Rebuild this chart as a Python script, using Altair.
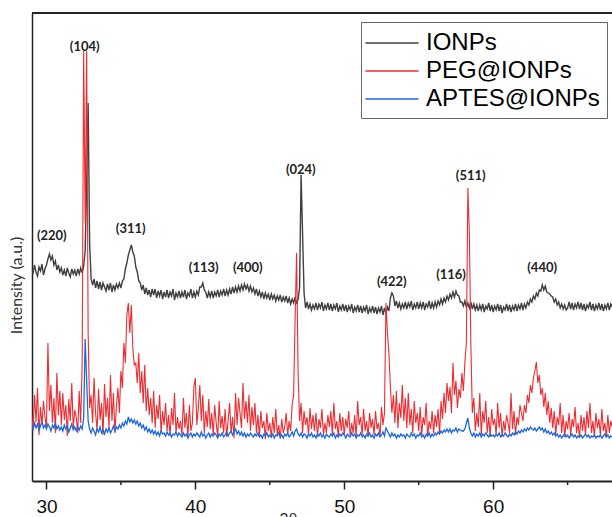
import altair as alt
import pandas as pd

# 2-theta grid: 29.0 .. 68.0 in 0.1 degree steps (one row of values per degree)
two_theta = [round(29.0 + 0.1 * i, 1) for i in range(391)]

series_names = ["IONPs", "PEG@IONPs", "APTES@IONPs"]
series_colors = ["#404040", "#ef2b30", "#1c68e0"]
series_widths = [1.4, 1.1, 1.3]

ionps = [
    215, 209, 218, 211, 207, 216, 212, 219, 208, 214,   # 29
    218, 224, 229, 223, 227, 218, 222, 213, 218, 211,   # 30
    215, 208, 213, 207, 215, 210, 206, 214, 209, 213,   # 31
    207, 214, 209, 215, 210, 217, 232, 300, 380, 240,   # 32
    204, 198, 204, 195, 202, 194, 201, 193, 200, 196,   # 33
    192, 199, 193, 200, 191, 198, 193, 199, 195, 200,   # 34
    195, 202, 204, 214, 220, 228, 233, 238, 231, 227,   # 35
    216, 211, 202, 200, 193, 198, 189, 195, 188, 193,   # 36
    186, 194, 188, 194, 185, 192, 187, 193, 184, 191,   # 37
    186, 193, 185, 191, 187, 194, 183, 190, 186, 192,   # 38
    185, 191, 186, 193, 184, 190, 187, 194, 185, 191,   # 39
    186, 192, 188, 196, 196, 200, 193, 191, 185, 191,   # 40
    186, 192, 185, 191, 187, 193, 186, 192, 188, 194,   # 41
    187, 193, 188, 194, 189, 196, 190, 196, 191, 197,   # 42
    192, 198, 193, 199, 194, 198, 192, 197, 191, 195,   # 43
    189, 194, 187, 192, 186, 191, 184, 190, 185, 189,   # 44
    183, 189, 184, 188, 182, 187, 183, 188, 181, 186,   # 45
    182, 187, 180, 185, 179, 184, 180, 186, 179, 184,   # 46
    195, 308, 250, 190, 175, 181, 174, 179, 173, 178,   # 47
    174, 180, 173, 179, 175, 181, 172, 178, 174, 180,   # 48
    173, 179, 172, 178, 174, 180, 171, 177, 173, 179,   # 49
    172, 178, 171, 177, 173, 179, 170, 176, 172, 178,   # 50
    171, 177, 170, 176, 172, 178, 169, 175, 171, 177,   # 51
    170, 176, 169, 175, 171, 177, 168, 175, 170, 176,   # 52
    172, 185, 190, 187, 177, 182, 175, 180, 174, 179,   # 53
    175, 181, 174, 180, 176, 182, 173, 179, 175, 181,   # 54
    174, 180, 175, 181, 173, 179, 176, 182, 174, 180,   # 55
    175, 181, 176, 182, 178, 184, 179, 185, 181, 187,   # 56
    183, 189, 185, 191, 186, 192, 188, 187, 181, 181,   # 57
    177, 182, 176, 180, 175, 181, 174, 179, 173, 178,   # 58
    172, 178, 173, 179, 171, 177, 174, 180, 172, 178,   # 59
    171, 177, 173, 179, 172, 178, 170, 176, 173, 179,   # 60
    172, 178, 171, 177, 173, 179, 172, 178, 174, 180,   # 61
    173, 179, 175, 181, 178, 184, 181, 187, 184, 190,   # 62
    187, 193, 192, 198, 193, 197, 191, 190, 189, 187,   # 63
    186, 181, 184, 178, 181, 175, 179, 174, 178, 173,   # 64
    175, 181, 174, 180, 173, 179, 175, 181, 174, 180,   # 65
    173, 179, 172, 178, 175, 181, 173, 179, 172, 178,   # 66
    174, 180, 173, 179, 172, 178, 174, 180, 173, 179,   # 67
    176,                                                # 68
]

peg_ionps = [
    70, 52, 88, 61, 95, 48, 76, 58, 82, 66,             # 29
    55, 140, 72, 98, 60, 85, 50, 110, 68, 92,           # 30
    58, 90, 63, 78, 47, 84, 62, 100, 55, 73,            # 31
    66, 50, 92, 60, 120, 432, 260, 432, 150, 75,        # 32
    88, 60, 105, 70, 52, 94, 63, 80, 48, 99,            # 33
    66, 85, 55, 108, 62, 90, 50, 77, 95, 70,            # 34
    112, 95, 140, 120, 168, 180, 150, 178, 135, 118,    # 35
    120, 100, 130, 90, 112, 80, 118, 72, 95, 68,        # 36
    85, 60, 92, 55, 78, 64, 88, 50, 72, 58,             # 37
    80, 52, 68, 47, 75, 58, 90, 50, 66, 54,             # 38
    62, 48, 85, 55, 70, 45, 78, 52, 60, 96,             # 39
    105, 58, 75, 98, 62, 88, 50, 72, 56, 84,            # 40
    54, 70, 48, 78, 60, 46, 82, 55, 67, 50,             # 41
    74, 46, 62, 80, 50, 66, 45, 90, 58, 85,             # 42
    70, 55, 100, 64, 82, 60, 88, 52, 76, 58,            # 43
    80, 50, 68, 46, 72, 55, 62, 44, 70, 52,             # 44
    60, 45, 66, 50, 74, 48, 58, 44, 64, 50,             # 45
    56, 70, 48, 62, 52, 78, 88, 165, 230, 110,          # 46
    62, 80, 50, 72, 58, 66, 48, 75, 54, 68,             # 47
    52, 70, 46, 64, 55, 74, 48, 60, 50, 68,             # 48
    56, 72, 48, 80, 54, 62, 46, 70, 52, 66,             # 49
    48, 64, 55, 72, 46, 60, 50, 68, 45, 82,             # 50
    58, 66, 48, 74, 52, 62, 46, 70, 55, 64,             # 51
    48, 72, 54, 60, 46, 76, 58, 70, 180, 150,           # 52
    130, 95, 70, 88, 60, 92, 55, 80, 65, 98,            # 53
    62, 85, 55, 90, 58, 74, 50, 82, 60, 70,             # 54
    52, 76, 48, 66, 58, 80, 46, 62, 54, 72,             # 55
    50, 68, 56, 74, 48, 82, 64, 90, 70, 100,            # 56
    82, 96, 70, 120, 88, 102, 75, 94, 85, 110,          # 57
    92, 120, 140, 295, 250, 140, 70, 85, 52, 70,        # 58
    56, 90, 48, 72, 60, 82, 50, 66, 46, 74,             # 59
    58, 64, 48, 80, 55, 70, 46, 62, 52, 68,             # 60
    60, 50, 90, 54, 72, 48, 66, 58, 78, 70,             # 61
    62, 78, 70, 88, 80, 98, 90, 105, 112, 121,          # 62
    100, 108, 88, 95, 76, 90, 68, 82, 60, 75,           # 63
    55, 72, 48, 66, 58, 80, 50, 68, 46, 62,             # 64
    54, 70, 47, 64, 56, 76, 50, 60, 45, 68,             # 65
    52, 66, 48, 72, 55, 80, 50, 62, 46, 70,             # 66
    55, 64, 48, 74, 52, 60, 45, 68, 50, 62,             # 67
    56,                                                 # 68
]

aptes_ionps = [
    58, 54, 60, 55, 59, 53, 57, 61, 55, 58,   # 29
    54, 59, 56, 52, 58, 55, 60, 54, 57, 53,   # 30
    56, 52, 58, 54, 57, 51, 55, 59, 53, 56,   # 31
    52, 56, 53, 57, 54, 65, 144, 103, 62, 54, # 32
    50, 55, 52, 48, 54, 51, 56, 50, 53, 49,   # 33
    54, 51, 55, 50, 53, 57, 52, 56, 54, 58,   # 34
    55, 60, 57, 62, 59, 66, 61, 64, 60, 63,   # 35
    59, 62, 57, 60, 55, 58, 53, 56, 51, 54,   # 36
    50, 53, 49, 52, 48, 51, 47, 52, 49, 50,   # 37
    47, 51, 48, 50, 46, 49, 48, 51, 47, 50,   # 38
    48, 46, 50, 47, 49, 45, 48, 50, 46, 49,   # 39
    47, 50, 48, 46, 51, 47, 49, 45, 48, 50,   # 40
    46, 49, 47, 50, 48, 45, 49, 47, 50, 46,   # 41
    48, 51, 47, 50, 52, 48, 51, 54, 49, 52,   # 42
    48, 51, 47, 50, 46, 49, 47, 50, 48, 46,   # 43
    49, 47, 50, 46, 48, 45, 49, 47, 50, 46,   # 44
    48, 46, 49, 45, 48, 47, 50, 46, 48, 45,   # 45
    49, 47, 50, 46, 48, 51, 47, 52, 54, 49,   # 46
    47, 50, 46, 49, 48, 45, 49, 47, 50, 46,   # 47
    48, 45, 49, 47, 50, 46, 48, 45, 49, 47,   # 48
    46, 49, 47, 50, 45, 48, 46, 49, 47, 50,   # 49
    48, 45, 49, 47, 46, 50, 47, 49, 45, 48,   # 50
    47, 50, 46, 48, 45, 49, 47, 50, 46, 48,   # 51
    45, 49, 47, 50, 46, 48, 51, 47, 55, 52,   # 52
    49, 46, 50, 47, 49, 45, 48, 46, 49, 47,   # 53
    48, 45, 49, 47, 46, 50, 47, 49, 45, 48,   # 54
    47, 50, 46, 48, 45, 49, 47, 50, 46, 49,   # 55
    47, 50, 48, 51, 49, 52, 50, 53, 51, 54,   # 56
    51, 54, 50, 53, 52, 55, 51, 54, 53, 52,   # 57
    52, 54, 60, 65, 55, 50, 47, 50, 46, 49,   # 58
    47, 50, 46, 49, 47, 50, 48, 46, 49, 47,   # 59
    48, 46, 49, 47, 50, 46, 48, 47, 50, 48,   # 60
    46, 49, 47, 50, 48, 51, 49, 52, 50, 53,   # 61
    51, 54, 52, 55, 53, 56, 54, 53, 55, 52,   # 62
    54, 56, 53, 55, 51, 54, 50, 52, 49, 51,   # 63
    48, 50, 47, 49, 46, 48, 45, 47, 49, 46,   # 64
    48, 45, 47, 49, 46, 48, 45, 47, 46, 48,   # 65
    45, 47, 49, 46, 48, 45, 47, 46, 48, 45,   # 66
    47, 46, 48, 45, 47, 49, 46, 48, 45, 47,   # 67
    46,                                       # 68
]

# Peak (hkl) annotations
peak_labels = ["(104)", "(220)", "(311)", "(113)", "(400)", "(024)", "(422)", "(116)", "(511)", "(440)"]
peak_x = [32.57, 30.36, 35.66, 40.56, 43.52, 47.08, 53.19, 57.17, 58.49, 63.29]
peak_y = [436, 247, 254, 215, 215, 313, 201, 208, 307, 215]

major_ticks = [30, 40, 50, 60]
minor_ticks = [35, 45, 55, 65]

W, H = 580, 468

x_scale = alt.Scale(domain=[29.03, 67.98], nice=False, zero=False)
y_scale = alt.Scale(domain=[2, 470], nice=False, zero=False)
color_scale = alt.Scale(domain=series_names, range=series_colors)

x_axis = alt.Axis(
    values=major_ticks, format="d",
    tickSize=8, tickColor="#222", tickWidth=1.5,
    domainColor="#222", domainWidth=2,
    labelFont="Liberation Sans", labelFontSize=19, labelColor="#111", labelPadding=8,
    grid=False,
    title="2θ", titleFont="Liberation Sans", titleFontSize=16, titleFontWeight="normal",
    titleColor="#333", titleX=256, titleY=30, titleBaseline="top", titleAlign="center",
)
y_axis = alt.Axis(
    labels=False, ticks=False, grid=False,
    domainColor="#222", domainWidth=1.5,
    title="Intensity (a.u.)", titleFont="Lato", titleFontSize=16, titleFontWeight="normal",
    titleColor="#333", titleAngle=270, titleX=-16, titleY=272,
    titleAlign="center", titleBaseline="middle",
)
legend = alt.Legend(
    title=None, orient="none", legendX=329, legendY=9,
    symbolType="M-2.04,0H2.04", symbolSize=676, symbolStrokeWidth=1.5,
    symbolOffset=10,
    labelFont="Liberation Sans", labelFontSize=24, labelColor="black",
    labelOffset=20, rowPadding=2, padding=7, labelLimit=400,
    strokeColor="#666", fillColor="white", cornerRadius=0,
)

X = alt.X("two_theta:Q", scale=x_scale, axis=x_axis)
Y = alt.Y("intensity:Q", scale=y_scale, axis=y_axis)
C = alt.Color("series:N", scale=color_scale, legend=legend)

series_values = [ionps, peg_ionps, aptes_ionps]
layers = []
for name, vals, sw in zip(series_names, series_values, series_widths):
    assert len(vals) == len(two_theta), (name, len(vals))
    d = pd.DataFrame({"two_theta": two_theta, "intensity": vals, "series": name})
    layers.append(alt.Chart(d).mark_line(strokeWidth=sw, clip=True).encode(x=X, y=Y, color=C))

ann_df = pd.DataFrame({"two_theta": peak_x, "intensity": peak_y, "label": peak_labels})
annotations = alt.Chart(ann_df).mark_text(
    font="Lato", fontSize=13, fontWeight="bold", color="#222", align="center", baseline="middle"
).encode(x=X, y=Y, text="label:N")

minor_df = pd.DataFrame({"two_theta": minor_ticks})
minor = alt.Chart(minor_df).mark_rule(color="#222", strokeWidth=1.5).encode(
    x=X, y=alt.value(H), y2=alt.value(H + 4)
)

top_border = alt.Chart(pd.DataFrame({"k": [0]})).mark_rule(color="#222", strokeWidth=2).encode(
    x=alt.value(0), x2=alt.value(W), y=alt.value(0)
)

chart = alt.layer(*layers, annotations, minor, top_border).properties(
    width=W, height=H,
    padding={"left": 32, "top": 13, "right": 0, "bottom": 36},
    autosize=alt.AutoSizeParams(type="none"),
).configure_view(stroke=None).configure(background="white")

chart.save("out.html", embed_options={"renderer": "svg", "actions": False})
